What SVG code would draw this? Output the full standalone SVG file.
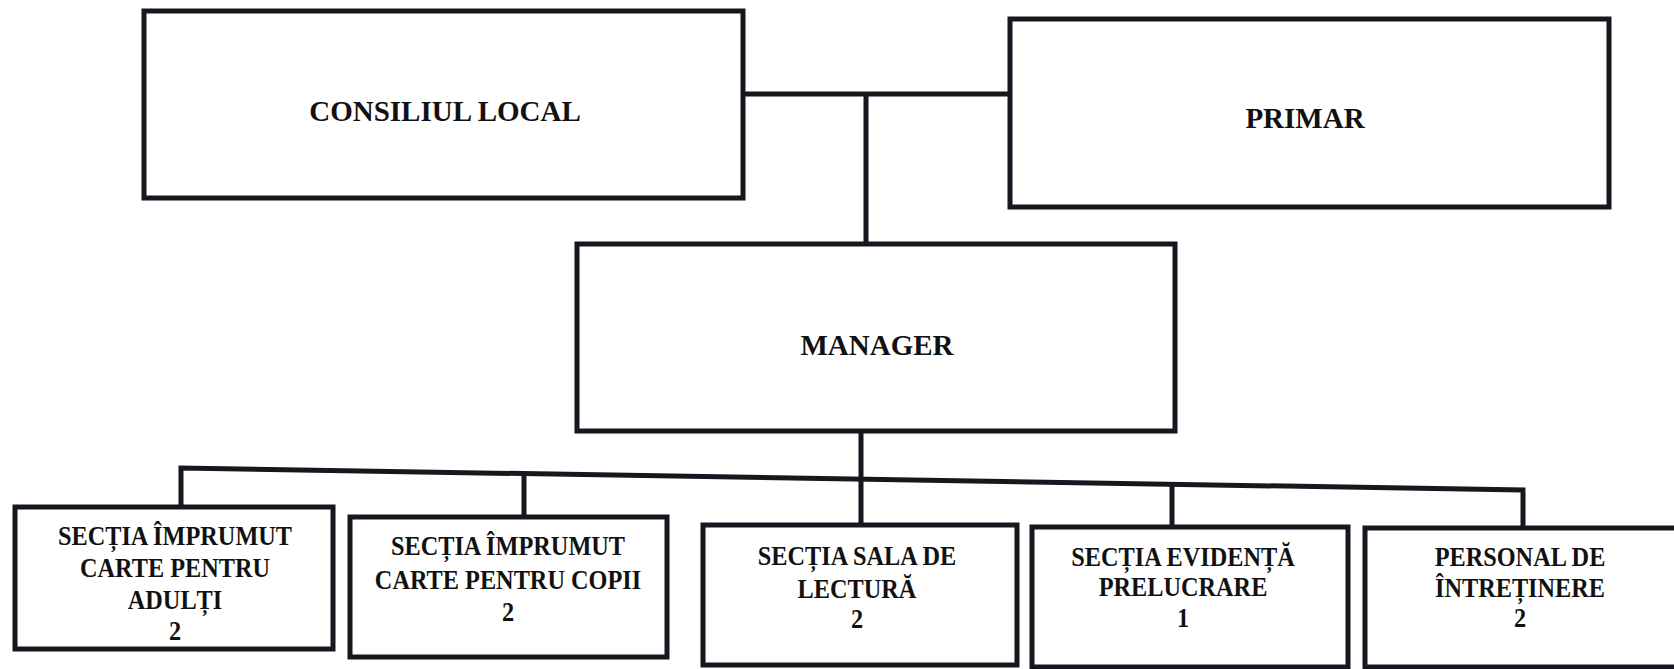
<svg xmlns="http://www.w3.org/2000/svg" width="1674" height="669" viewBox="0 0 1674 669">
<style>
.box{fill:#fff;stroke:#17171f;stroke-width:5}
.conn{fill:none;stroke:#17171f;stroke-width:5}
text{font-family:"Liberation Serif","Times New Roman",serif;font-weight:bold;fill:#111;text-anchor:middle}
.big{font-size:29px}
.small{font-size:27px}
</style>
<rect width="1674" height="669" fill="#fff"/>
<g id="connectors">
<line class="conn" x1="743" y1="94" x2="1010" y2="94"/>
<line class="conn" x1="866" y1="94" x2="866" y2="244"/>
<line class="conn" x1="861" y1="431" x2="861" y2="525"/>
<polyline class="conn" points="181,507 181,468 1523,490 1523,528"/>
<line class="conn" x1="524" y1="473" x2="524" y2="517"/>
<line class="conn" x1="1172" y1="485" x2="1172" y2="527"/>
</g>
<g id="consiliul-local">
<rect class="box" x="144" y="11" width="599" height="187"/>
<text class="big" x="445" y="121">CONSILIUL LOCAL</text>
</g>
<g id="primar">
<rect class="box" x="1010" y="19" width="599" height="188"/>
<text class="big" x="1305" y="128">PRIMAR</text>
</g>
<g id="manager">
<rect class="box" x="577" y="244" width="598" height="187"/>
<text class="big" x="877" y="355">MANAGER</text>
</g>
<g id="sectia-adulti">
<rect class="box" x="15" y="507" width="318" height="142"/>
<g transform="translate(175,0) scale(0.9,1)">
<text class="small" x="0" y="545">SECȚIA ÎMPRUMUT</text>
<text class="small" x="0" y="577">CARTE PENTRU</text>
<text class="small" x="0" y="609">ADULȚI</text>
<text class="small" x="0" y="640">2</text>
</g>
</g>
<g id="sectia-copii">
<rect class="box" x="350" y="517" width="317" height="140"/>
<g transform="translate(508,0) scale(0.9,1)">
<text class="small" x="0" y="555">SECȚIA ÎMPRUMUT</text>
<text class="small" x="0" y="589">CARTE PENTRU COPII</text>
<text class="small" x="0" y="621">2</text>
</g>
</g>
<g id="sectia-sala">
<rect class="box" x="703" y="525" width="314" height="140"/>
<g transform="translate(857,0) scale(0.9,1)">
<text class="small" x="0" y="565">SECȚIA SALA DE</text>
<text class="small" x="0" y="598">LECTURĂ</text>
<text class="small" x="0" y="628">2</text>
</g>
</g>
<g id="sectia-evidenta">
<rect class="box" x="1032" y="527" width="316" height="140"/>
<g transform="translate(1183,0) scale(0.9,1)">
<text class="small" x="0" y="566">SECȚIA EVIDENȚĂ</text>
<text class="small" x="0" y="596">PRELUCRARE</text>
<text class="small" x="0" y="627">1</text>
</g>
</g>
<g id="personal-intretinere">
<rect class="box" x="1365" y="528" width="320" height="139"/>
<g transform="translate(1520,0) scale(0.9,1)">
<text class="small" x="0" y="566">PERSONAL DE</text>
<text class="small" x="0" y="597">ÎNTREȚINERE</text>
<text class="small" x="0" y="627">2</text>
</g>
</g>
</svg>
